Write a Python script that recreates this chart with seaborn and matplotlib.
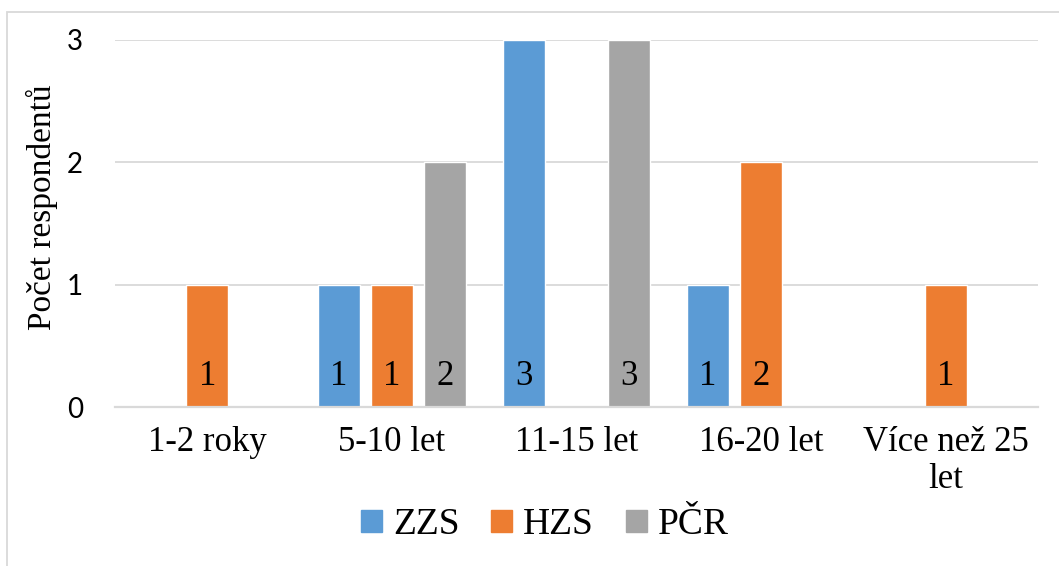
import pandas as pd
import numpy as np
import seaborn as sns
import matplotlib.pyplot as plt
from matplotlib.patches import Rectangle

categories = ['1-2 roky', '5-10 let', '11-15 let', '16-20 let', 'Více než 25\nlet']
groups = ['ZZS', 'HZS', 'PČR']
zzs = [0, 1, 3, 1, 0]
hzs = [1, 1, 0, 2, 1]
pcr = [0, 2, 3, 0, 0]
colors = ['#5b9bd5', '#ed7d31', '#a5a5a5']

df = pd.DataFrame({
    'kategorie': categories * 3,
    'skupina': [g for g in groups for _ in categories],
    'pocet': zzs + hzs + pcr,
})

sns.set_style('white')
plt.rcParams['text.color'] = 'black'
plt.rcParams['xtick.color'] = 'black'
plt.rcParams['ytick.color'] = 'black'
plt.rcParams['axes.labelcolor'] = 'black'
serif = 'Liberation Serif'

fig = plt.figure(figsize=(10.59, 5.66), dpi=100)
ax = fig.add_axes([115 / 1059, 1 - 407 / 566, (1038 - 115) / 1059, (407 - 40) / 566])

sns.barplot(data=df, x='kategorie', y='pocet', hue='skupina', palette=colors,
            width=0.86, gap=0.206, ax=ax, legend=True, saturation=1)

ax.set_ylim(0, 3)
ax.set_xlim(-0.5, 4.5)
ax.set_yticks([0, 1, 2, 3])
ax.yaxis.grid(True, color='#d9d9d9', linewidth=1.3)
ax.set_axisbelow(True)
for s in ['top', 'right', 'left']:
    ax.spines[s].set_visible(False)
ax.spines['bottom'].set_color('#d9d9d9')
ax.spines['bottom'].set_linewidth(1.6)
ax.tick_params(axis='both', length=0)
ax.tick_params(axis='y', pad=23, labelsize=20, labelfontfamily='Lato', labelcolor='black')
ax.tick_params(axis='x', pad=14, labelsize=25, labelfontfamily=serif, labelcolor='black')
for t in ax.get_xticklabels():
    t.set_linespacing(1.15)

ax.set_xlabel('')
ax.set_ylabel('Počet respondentů', fontfamily=serif, fontsize=24, color='black')
ax.yaxis.set_label_coords(-57 / 923, 0.545)

# popisky u paty sloupců
for cont in ax.containers:
    for p in cont.patches:
        h = p.get_height()
        if h > 0:
            ax.text(p.get_x() + p.get_width() / 2, 0.25, f'{int(h)}',
                    ha='center', va='center', fontfamily=serif, fontsize=25)

leg = ax.get_legend()
leg.remove()
handles = [Rectangle((0, 0), 1, 1, color=c) for c in colors]
fig.legend(handles, groups, loc='center', bbox_to_anchor=(545 / 1059, 1 - 525 / 566),
           ncol=3, frameon=False, prop={'family': serif, 'size': 27},
           handlelength=0.55, handleheight=0.55, handletextpad=0.3, columnspacing=0.85)

fig.patches.append(Rectangle((7 / 1059, -0.1), 1.2, 1 - 12 / 566 + 0.1,
                             transform=fig.transFigure, fill=False,
                             edgecolor='#d9d9d9', linewidth=1.3))

fig.savefig('out.png', dpi=100)
